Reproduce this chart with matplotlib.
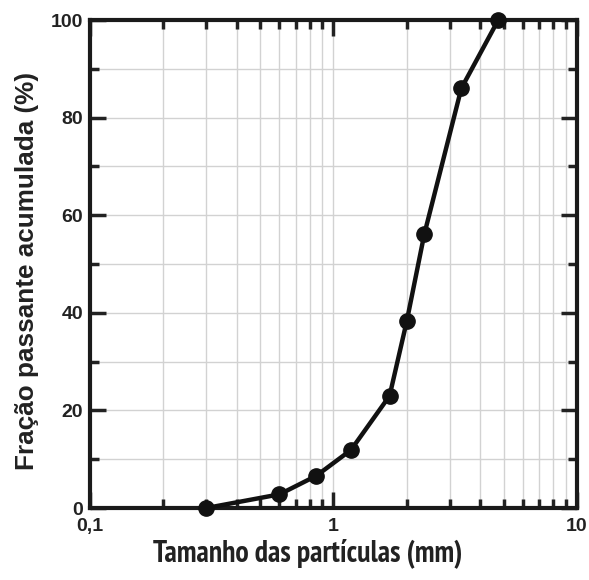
import numpy as np
import matplotlib.pyplot as plt
from matplotlib.ticker import FixedLocator, LogLocator, NullFormatter, MultipleLocator

# Sieve openings (mm) and cumulative passing fraction (%)
sizes = [0.3, 0.6, 0.85, 1.18, 1.7, 2.0, 2.36, 3.35, 4.75]
passing = [0.0, 2.8, 6.6, 11.9, 23.0, 38.3, 56.1, 86.0, 100.0]

x_ticks = [0.1, 1, 10]
x_ticklabels = ['0,1', '1', '10']
y_ticks = [0, 20, 40, 60, 80, 100]

plt.rcParams['font.family'] = ['Liberation Sans', 'DejaVu Sans']
narrow_font = ['PT Sans Narrow', 'Liberation Sans', 'DejaVu Sans']
ink = '#222222'

fig = plt.figure(figsize=(5.89, 5.80), dpi=100)
ax = fig.add_axes([0.1528, 0.1241, 0.8268, 0.8414])

ax.plot(sizes, passing, color='#111111', lw=3.2, marker='o', ms=11,
        markerfacecolor='#111111', markeredgecolor='#111111', clip_on=False, zorder=5)

ax.set_xscale('log')
ax.set_xlim(0.1, 10)
ax.set_ylim(0, 100)

ax.xaxis.set_major_locator(FixedLocator(x_ticks))
ax.set_xticklabels(x_ticklabels)
ax.xaxis.set_minor_locator(LogLocator(base=10, subs=np.arange(2, 10)))
ax.xaxis.set_minor_formatter(NullFormatter())
ax.yaxis.set_major_locator(FixedLocator(y_ticks))
ax.yaxis.set_minor_locator(MultipleLocator(10))

ax.grid(True, which='both', color='#d2d2d2', lw=1)
ax.set_axisbelow(True)

ax.tick_params(which='both', direction='in', top=True, right=True,
               colors=ink, labelsize=14, width=2.5)
ax.tick_params(which='major', length=11.5)
ax.tick_params(axis='x', which='major', pad=7)
ax.tick_params(axis='y', which='major', pad=5)
ax.tick_params(which='minor', length=6.5)
for lab in ax.get_xticklabels() + ax.get_yticklabels():
    lab.set_fontweight('bold')

for sp in ax.spines.values():
    sp.set_linewidth(3)
    sp.set_color('#1a1a1a')

ax.set_xlabel('Tamanho das partículas (mm)', fontsize=21.5, fontweight='bold',
              family=narrow_font, color=ink, va='center')
ax.set_ylabel('Fração passante acumulada (%)', fontsize=18.8, fontweight='bold',
              color=ink, va='center')
ax.xaxis.set_label_coords(0.446, -0.092)
ax.yaxis.set_label_coords(-0.129, 0.486)

plt.savefig('out.png', dpi=100)
